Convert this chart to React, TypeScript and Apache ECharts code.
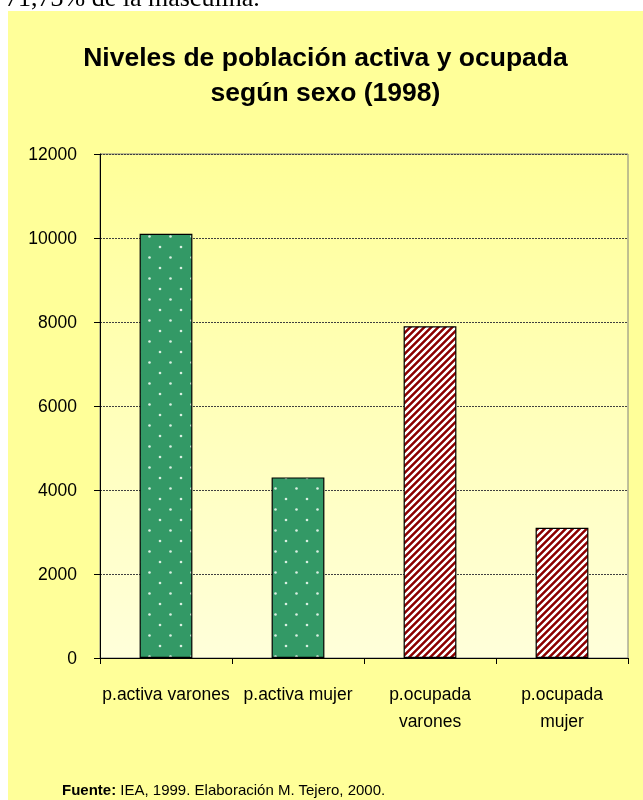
import React, { useEffect, useRef } from 'react';
import * as echarts from 'echarts';

const categories = ['p.activa varones', 'p.activa mujer', 'p.ocupada\nvarones', 'p.ocupada\nmujer'];
const values = [10100, 4300, 7900, 3100];
const fills = ['dots', 'dots', 'stripes', 'stripes'];
const yMin = 0;
const yMax = 12000;
const yStep = 2000;
const titleText = 'Niveles de población activa y ocupada\nsegún sexo (1998)';
const sourceLabel = 'Fuente:';
const sourceText = ' IEA, 1999. Elaboración M. Tejero, 2000.';
const aboveText = '71,73% de la masculina.';

const FONT = "'Liberation Sans', Arial, sans-serif";

function makeDots(): any {
  const s = 21;
  const c = document.createElement('canvas');
  c.width = s;
  c.height = s;
  const ctx = c.getContext('2d')!;
  ctx.fillStyle = '#339966';
  ctx.fillRect(0, 0, s, s);
  ctx.fillStyle = 'rgba(235,250,240,0.9)';
  [[5, 5], [15.5, 15.5]].forEach(([x, y]) => {
    ctx.beginPath();
    ctx.arc(x, y, 1.3, 0, Math.PI * 2);
    ctx.fill();
  });
  return { image: c, repeat: 'repeat', imageWidth: s, imageHeight: s };
}

function makeStripes(): any {
  const p = 7;
  const c = document.createElement('canvas');
  c.width = p;
  c.height = p;
  const ctx = c.getContext('2d')!;
  const img = ctx.createImageData(p, p);
  for (let y = 0; y < p; y++) {
    for (let x = 0; x < p; x++) {
      const t = ((x + y) % p) / p;
      const cv = Math.cos(2 * Math.PI * t);
      const w = Math.max(0, Math.min(1, 0.5 + 1.1 * cv));
      const i = (y * p + x) * 4;
      img.data[i] = Math.round(140 + (255 - 140) * w);
      img.data[i + 1] = Math.round(0 + 255 * w);
      img.data[i + 2] = Math.round(0 + 255 * w);
      img.data[i + 3] = 255;
    }
  }
  ctx.putImageData(img, 0, 0);
  return { image: c, repeat: 'repeat', imageWidth: p, imageHeight: p };
}

export default function App() {
  const ref = useRef<HTMLDivElement>(null);
  useEffect(() => {
    if (!ref.current) return;
    const chart = echarts.init(ref.current, null, { renderer: 'svg' });
    const dots = makeDots();
    const stripes = makeStripes();
    chart.setOption({
      animation: false,
      backgroundColor: '#FFFF99',
      title: {
        text: titleText,
        left: 'center',
        top: 23,
        textStyle: { fontFamily: FONT, fontSize: 26.5, fontWeight: 'bold', lineHeight: 35, color: '#000' },
      },
      grid: {
        left: 92,
        right: 15,
        top: 143,
        bottom: 142,
        show: true,
        borderColor: '#808080',
        borderWidth: 1,
        backgroundColor: {
          type: 'linear', x: 0, y: 0, x2: 0, y2: 1,
          colorStops: [
            { offset: 0, color: '#FFFF99' },
            { offset: 1, color: '#FFFFDA' },
          ],
        },
      },
      xAxis: {
        type: 'category',
        data: categories,
        axisLine: { lineStyle: { color: '#000', width: 1 } },
        axisTick: { show: true, length: 6, lineStyle: { color: '#000' } },
        axisLabel: { interval: 0, margin: 22, fontFamily: FONT, fontSize: 17.5, lineHeight: 27, color: '#000' },
      },
      yAxis: {
        type: 'value',
        min: yMin,
        max: yMax,
        interval: yStep,
        axisLine: { show: true, lineStyle: { color: '#000', width: 1 } },
        axisTick: { show: true, length: 6, lineStyle: { color: '#000' } },
        axisLabel: { margin: 23, fontFamily: FONT, fontSize: 17.5, color: '#000', formatter: (v: number) => String(v) },
        splitLine: { show: true, lineStyle: { color: '#404040', type: [2, 1], width: 1 } },
      },
      series: [
        {
          type: 'bar',
          barWidth: '40%',
          data: values.map((v, i) => ({
            value: v,
            itemStyle: {
              color: fills[i] === 'dots' ? dots : stripes,
              borderColor: '#000',
              borderWidth: 1.2,
            },
          })),
        },
      ],
      graphic: [
        {
          type: 'text',
          left: 54,
          top: 771,
          style: {
            text: '{b|' + sourceLabel + '}' + sourceText,
            font: '15px ' + FONT,
            fill: '#000',
            rich: { b: { fontWeight: 'bold', fontFamily: FONT, fontSize: 15 } },
          },
        },
      ],
    });
    return () => chart.dispose();
  }, []);
  return (
    <div>
      <div
        style={{
          position: 'fixed',
          left: 5,
          top: -15,
          fontFamily: "'Liberation Serif', 'Times New Roman', serif",
          fontSize: 26,
          lineHeight: '26px',
          whiteSpace: 'nowrap',
          color: '#000',
        }}
      >
        {aboveText}
      </div>
      <div
        ref={ref}
        style={{ position: 'fixed', left: 8, top: 11, width: 635, height: 789 }}
      />
    </div>
  );
}
